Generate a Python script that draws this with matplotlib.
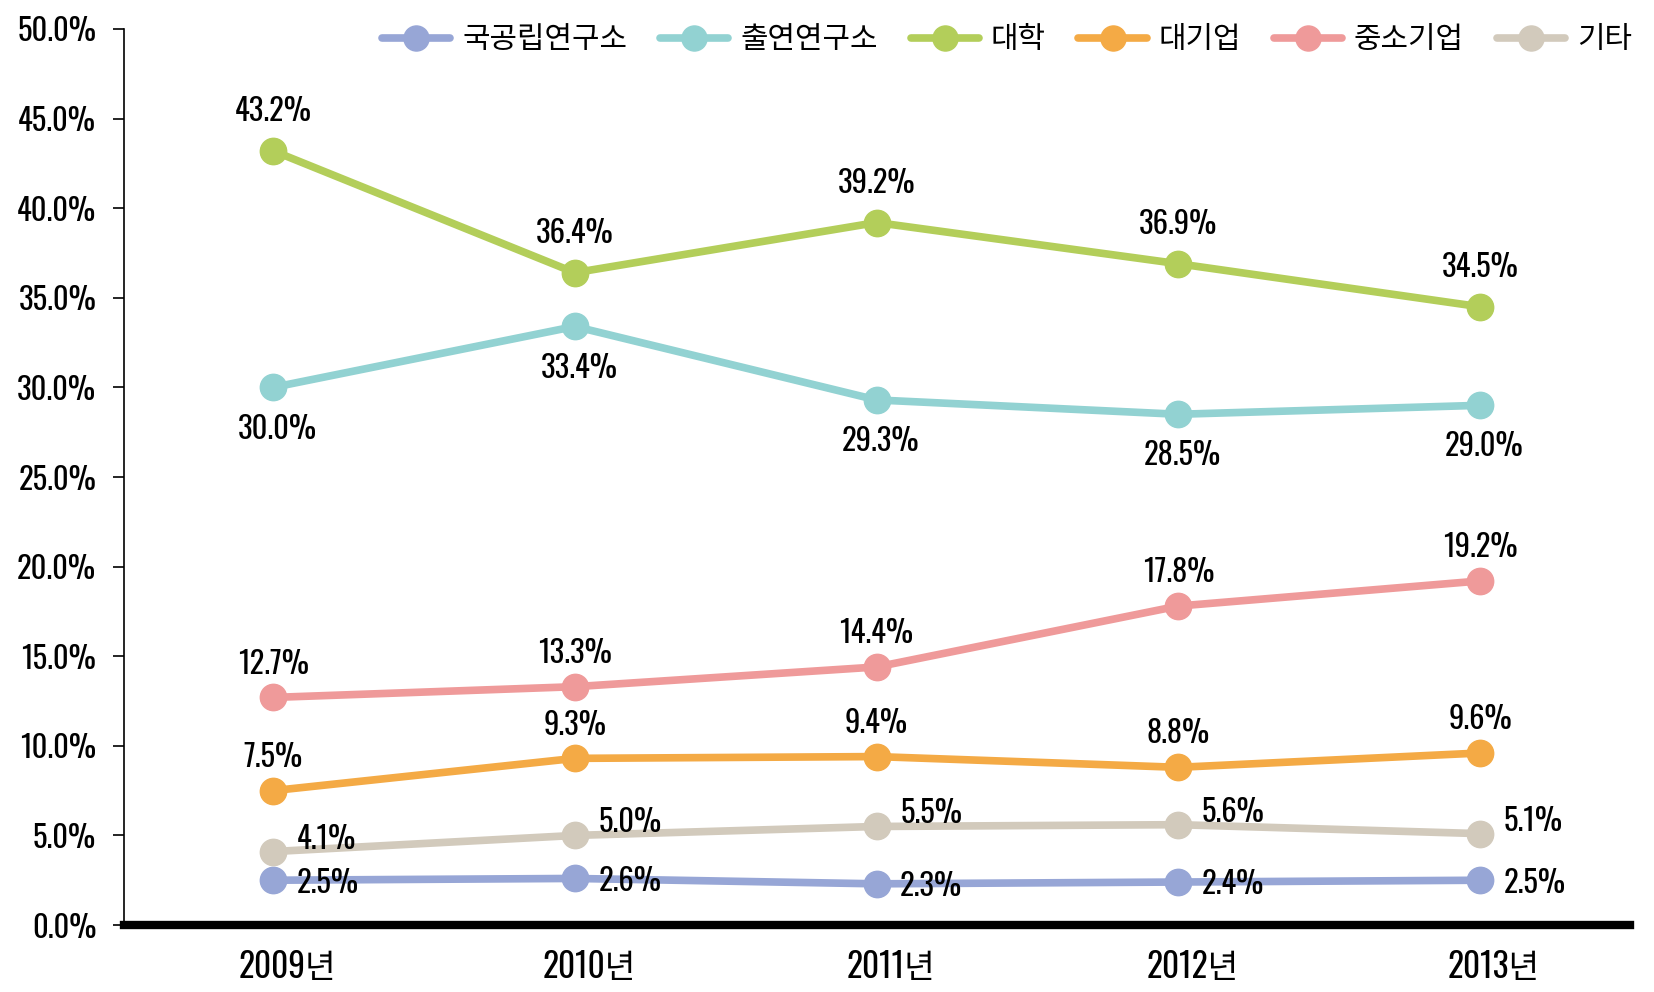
import matplotlib
matplotlib.use("Agg")
import matplotlib.pyplot as plt
from matplotlib.ticker import FuncFormatter, MultipleLocator
from matplotlib.transforms import ScaledTranslation
from matplotlib.font_manager import FontProperties

plt.rcParams['font.family'] = ['Oswald', 'Noto Sans CJK KR', 'DejaVu Sans']

years = ['2009년', '2010년', '2011년', '2012년', '2013년']
series_names = ['국공립연구소', '출연연구소', '대학', '대기업', '중소기업', '기타']
national_labs = [2.5, 2.6, 2.3, 2.4, 2.5]
funded_labs = [30.0, 33.4, 29.3, 28.5, 29.0]
universities = [43.2, 36.4, 39.2, 36.9, 34.5]
large_firms = [7.5, 9.3, 9.4, 8.8, 9.6]
sme = [12.7, 13.3, 14.4, 17.8, 19.2]
others = [4.1, 5.0, 5.5, 5.6, 5.1]

values = [national_labs, funded_labs, universities, large_firms, sme, others]
colors = ['#97A6D6', '#92D2D2', '#B3CE5A', '#F4AA45', '#EF9A9A', '#D2CABC']
# label offsets in points (dx, dy) and alignment
label_pos = [
    ((17, -2), 'left', 'center'),
    ((3, -30), 'center', 'center'),
    ((0, 28), 'center', 'center'),
    ((0, 24), 'center', 'center'),
    ((0, 24), 'center', 'center'),
    ((17, 9), 'left', 'center'),
]

fig = plt.figure(figsize=(16.54, 9.92), dpi=100)
ax = fig.add_axes([0.075, 0.0675, 0.9105, 0.9033])

x = list(range(len(years)))
for name, vals, c in zip(series_names, values, colors):
    ax.plot(x, vals, color=c, lw=5.5, marker='o', ms=19, label=name, zorder=3,
            solid_capstyle='round')

for vals, (off, ha, va) in zip(values, label_pos):
    for xi, v in zip(x, vals):
        ax.annotate(f'{v:.1f}%', (xi, v), xytext=off, textcoords='offset points',
                    ha=ha, va=va, fontsize=22, color='black', zorder=4,
                    fontweight='light')

ax.set_xlim(-0.494, 4.497)
ax.set_ylim(0, 50)
ax.yaxis.set_major_locator(MultipleLocator(5))
ax.yaxis.set_major_formatter(FuncFormatter(lambda v, p: f'{v:.1f}%'))
ax.tick_params(axis='y', labelsize=22, length=8, width=1.2, direction='out', pad=12)
ax.set_xticks(x)
ax.set_xticklabels(years)
ax.tick_params(axis='x', labelsize=24, length=0, pad=18)
shift = ScaledTranslation(0.14, 0, fig.dpi_scale_trans)
for lbl in ax.get_xticklabels():
    lbl.set_transform(lbl.get_transform() + shift)
for lbl in ax.get_yticklabels() + ax.get_xticklabels():
    lbl.set_fontweight('light')

ax.spines['top'].set_visible(False)
ax.spines['right'].set_visible(False)
ax.spines['left'].set_linewidth(1.2)
ax.spines['bottom'].set_linewidth(6)
ax.spines['bottom'].set_zorder(5)

leg_font = FontProperties(family=['Noto Sans CJK KR', 'DejaVu Sans'], size=21.5, weight='light')
leg = ax.legend(loc='upper right', bbox_to_anchor=(1.019, 1.035), ncol=6, frameon=False,
                prop=leg_font, handlelength=2.28, columnspacing=1.1, handletextpad=0.4,
                markerscale=0.95)

fig.savefig('out.png', dpi=100)
